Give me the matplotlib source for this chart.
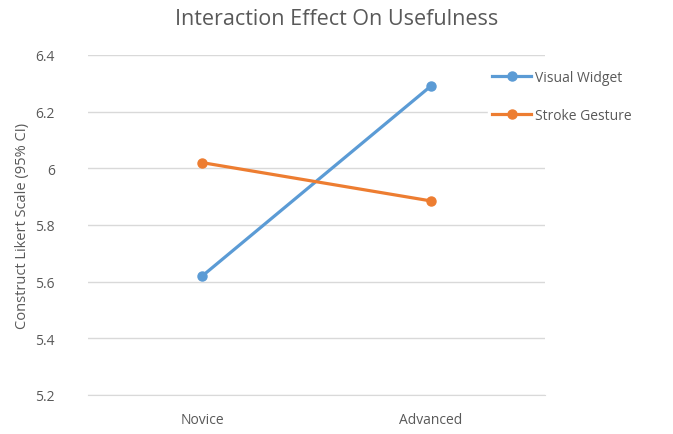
import matplotlib.pyplot as plt

plt.rcParams['font.family'] = ['Open Sans', 'DejaVu Sans']

levels = ["Novice", "Advanced"]
visual_widget = [5.62, 6.29]
stroke_gesture = [6.02, 5.885]
series_names = ["Visual Widget", "Stroke Gesture"]
yticks = [5.2, 5.4, 5.6, 5.8, 6.0, 6.2, 6.4]
ytick_labels = ["5.2", "5.4", "5.6", "5.8", "6", "6.2", "6.4"]

text_color = "#595959"
grid_color = "#D9D9D9"

fig = plt.figure(figsize=(6.73, 4.35), dpi=100)
ax = fig.add_axes([0.1308, 0.0897, 0.679, 0.7816])

xs = [0.5, 1.5]
ax.plot(xs, visual_widget, color="#5B9BD5", lw=2.3, marker="o", ms=6.5, label=series_names[0], zorder=3)
ax.plot(xs, stroke_gesture, color="#ED7D31", lw=2.3, marker="o", ms=6.5, label=series_names[1], zorder=3)

ax.set_xlim(0, 2)
ax.set_ylim(5.2, 6.4)
ax.set_yticks(yticks)
ax.set_yticklabels(ytick_labels)
ax.set_xticks(xs)
ax.set_xticklabels(levels)
ax.tick_params(length=0, colors=text_color, labelsize=10)
ax.tick_params(axis='y', pad=24)
ax.tick_params(axis='x', pad=12)
ax.grid(axis='y', color=grid_color, lw=1)
ax.set_axisbelow(True)
for s in ["top", "right", "left"]:
    ax.spines[s].set_visible(False)
ax.spines["bottom"].set_color(grid_color)

ax.set_ylabel("Construct Likert Scale (95% CI)", color=text_color, fontsize=10.5, labelpad=4)
fig.suptitle("Interaction Effect On Usefulness", color=text_color, fontsize=15.5, y=0.98)

leg = fig.legend(loc="upper left", bbox_to_anchor=(0.715, 0.862), frameon=True, fontsize=10,
                 handlelength=2.8, labelspacing=1.65, handletextpad=0.3, borderpad=0.3)
leg.get_frame().set_edgecolor("white")
leg.get_frame().set_facecolor("white")
leg.get_frame().set_alpha(1)
for t in leg.get_texts():
    t.set_color(text_color)

fig.savefig("out.png", dpi=100)
